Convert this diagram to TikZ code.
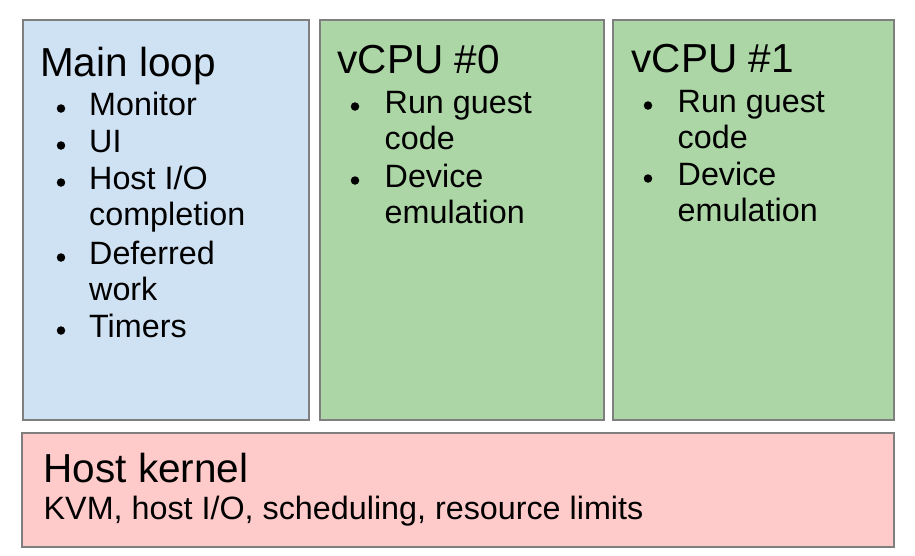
\documentclass[tikz,border=0pt]{standalone}
\usepackage{fontspec}
\setmainfont{Liberation Sans}
\usepackage{xcolor}

\definecolor{boxgray}{HTML}{7F7F7F}
\definecolor{loopblue}{HTML}{CFE2F3}
\definecolor{cpugreen}{HTML}{ADD6A6}
\definecolor{kernred}{HTML}{FFCACA}

\newcommand{\itemlines}[1]{\begin{tabular}[t]{@{}l@{}}#1\end{tabular}}

\begin{document}
\begin{tikzpicture}[x=1pt, y=-1pt,
  box/.style={rectangle, draw=boxgray, line width=1.5pt, inner sep=0},
  title/.style={anchor=base west, inner sep=0, font=\fontsize{40.5}{46}\selectfont},
  item/.style={anchor=base west, inner sep=0, font=\fontsize{32.3}{36.5}\selectfont},
  dot/.style={circle, fill=black, inner sep=0, minimum size=8.5pt}]
\useasboundingbox (0,0) rectangle (915,555);

\node (mainbox) at (166,220) [box, fill=loopblue, minimum width=286pt, minimum height=400pt] {};
\node (cpu0box) at (462,220) [box, fill=cpugreen, minimum width=284pt, minimum height=400pt] {};
\node (cpu1box) at (753.5,220) [box, fill=cpugreen, minimum width=281pt, minimum height=400pt] {};
\node (hostbox) at (458,490) [box, fill=kernred, minimum width=872pt, minimum height=114pt] {};

% main loop
\node (maintitle) at (40,76) [title] {Main loop};
\node (monitor) at (89,115) [item] {Monitor};
\node (ui) at (89,152) [item] {UI};
\node (hostio) at (89,189) [item] {\itemlines{Host I/O\\completion}};
\node (deferred) at (89,264) [item] {\itemlines{Deferred\\work}};
\node (timers) at (89,337) [item] {Timers};
\node (mdot1) at (61,108.5) [dot] {};
\node (mdot2) at (61,145.5) [dot] {};
\node (mdot3) at (61,182.5) [dot] {};
\node (mdot4) at (61,257.5) [dot] {};
\node (mdot5) at (61,330.5) [dot] {};

% vcpu 0
\node (cpu0title) at (337.5,73) [title] {vCPU \#0};
\node (run0) at (384.5,113) [item] {\itemlines{Run guest\\code}};
\node (dev0) at (384.5,187) [item] {\itemlines{Device\\emulation}};
\node (adot1) at (355,106.5) [dot] {};
\node (adot2) at (355,180.5) [dot] {};

% vcpu 1
\node (cpu1title) at (631.5,72) [title] {vCPU \#1};
\node (run1) at (677.5,112) [item] {\itemlines{Run guest\\code}};
\node (dev1) at (677.5,185) [item] {\itemlines{Device\\emulation}};
\node (bdot1) at (648,105.5) [dot] {};
\node (bdot2) at (648,178.5) [dot] {};

% host kernel
\node (hosttitle) at (43.5,482) [title] {Host kernel};
\node (hostlist) at (43.5,519) [item] {KVM, host I/O, scheduling, resource limits};
\end{tikzpicture}
\end{document}
